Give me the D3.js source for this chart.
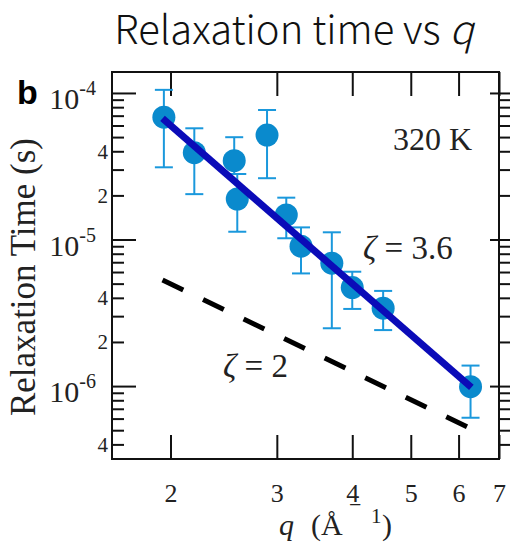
<!DOCTYPE html>
<html>
<head>
<meta charset="utf-8">
<script src="https://cdn.jsdelivr.net/npm/d3@7"></script>
<style>
  body { margin: 0; background: #fff; }
  svg { display: block; }
</style>
</head>
<body>
<div id="chart"></div>
<script>
const qValues = [1.95, 2.19, 2.55, 2.58, 2.89, 3.11, 3.29, 3.70, 4.00, 4.50, 6.28];
const tauValues = [6.83e-5, 3.91e-5, 3.45e-5, 1.89e-5, 5.16e-5, 1.47e-5, 9.0e-6, 6.9e-6, 4.7e-6, 3.4e-6, 9.9e-7];
const tauHigh = [1.05e-4, 5.74e-5, 4.99e-5, 2.80e-5, 7.65e-5, 1.93e-5, 1.21e-5, 1.12e-5, 6.03e-6, 4.46e-6, 1.38e-6];
const tauLow = [3.11e-5, 2.04e-5, 2.80e-5, 1.13e-5, 2.62e-5, 1.02e-5, 5.87e-6, 2.48e-6, 3.36e-6, 2.41e-6, 6.08e-7];

// fitted line (zeta = 3.6) and reference slope (zeta = 2), end points
const fitQ = [1.94, 6.3];
const fitTau = [6.7e-5, 9.8e-7];
const refQ = [1.94, 6.28];
const refTau = [5.3e-6, 5.14e-7];

// ticks
const xTicks = [2, 3, 4, 5, 6, 7];
const yMajor = [1e-4, 1e-5, 1e-6];
const yMajorExp = ["-4", "-5", "-6"];
const yMinor = [4e-7, 5e-7, 6e-7, 7e-7, 8e-7, 9e-7,
                2e-6, 3e-6, 4e-6, 5e-6, 6e-6, 7e-6, 8e-6, 9e-6,
                2e-5, 3e-5, 4e-5, 5e-5, 6e-5, 7e-5, 8e-5, 9e-5];
const yMinorLabels = [4e-7, 2e-6, 4e-6, 2e-5, 4e-5];

const width = 510, height = 547;
const margin = { top: 72, right: 11, bottom: 88, left: 112 };
const serif = "'Liberation Serif', 'Times New Roman', serif";

const svg = d3.select('#chart')
    .append('svg')
    .attr('width', width)
    .attr('height', height);

const x = d3.scaleLog()
    .domain([1.6, 7])
    .range([margin.left, width - margin.right]);

const y = d3.scaleLog()
    .domain([3.18e-7, 1.39e-4])
    .range([height - margin.bottom, margin.top]);

const x0 = x.range()[0], x1 = x.range()[1];
const y0 = y.range()[0], y1 = y.range()[1];

// Title
svg.append('text')
    .attr('x', 294)
    .attr('y', 44)
    .attr('text-anchor', 'middle')
    .style('font-family', "'Noto Sans CJK JP', 'Noto Sans', sans-serif")
    .style('font-size', '40px')
    .style('font-weight', 300)
    .attr('fill', '#111')
    .text('Relaxation time vs ')
    .append('tspan')
    .style('font-style', 'italic')
    .text('q');

// panel letter
svg.append('text')
    .attr('x', 17)
    .attr('y', 104)
    .style('font-family', "'Liberation Sans', Arial, sans-serif")
    .style('font-weight', 'bold')
    .style('font-size', '34px')
    .text('b');

// styles for axes
function styleAxis(g, fontSize) {
    g.select('.domain').remove();
    g.selectAll('.tick line').attr('stroke', '#111').attr('stroke-width', 2);
    g.selectAll('.tick text')
        .attr('fill', '#222')
        .style('font-family', serif)
        .style('font-size', fontSize);
}

// bottom x axis (ticks inward)
svg.append('g')
    .attr('transform', `translate(0,${y0})`)
    .call(d3.axisBottom(x).tickValues(xTicks).tickSize(-24).tickPadding(25).tickFormat(d3.format('d')))
    .call(g => styleAxis(g, '26px'));

// top x axis (ticks inward, no labels)
svg.append('g')
    .attr('transform', `translate(0,${y1})`)
    .call(d3.axisTop(x).tickValues(xTicks).tickSize(-24).tickFormat(''))
    .call(g => styleAxis(g, '0px'));

// left y axis: minor ticks
svg.append('g')
    .attr('transform', `translate(${x0},0)`)
    .call(d3.axisLeft(y).tickValues(yMinor).tickSize(-12).tickPadding(4)
        .tickFormat(d => yMinorLabels.some(v => Math.abs(v - d) / v < 1e-6) ? String(Math.round(d / Math.pow(10, Math.floor(Math.log10(d) + 1e-9)))) : ''))
    .call(g => styleAxis(g, '21px'));

// left y axis: major ticks
svg.append('g')
    .attr('transform', `translate(${x0},0)`)
    .call(d3.axisLeft(y).tickValues(yMajor).tickSize(-24).tickFormat(''))
    .call(g => styleAxis(g, '0px'));

// power-of-ten labels
yMajor.forEach((v, i) => {
    const t = svg.append('text')
        .attr('x', 96)
        .attr('y', y(v) + 16)
        .attr('text-anchor', 'end')
        .attr('fill', '#222')
        .style('font-family', serif);
    t.append('tspan').style('font-size', '30px').text('10');
    t.append('tspan').style('font-size', '20px').attr('dy', -14).text(yMajorExp[i]);
});

// right y axis (ticks outward)
svg.append('g')
    .attr('transform', `translate(${x1},0)`)
    .call(d3.axisRight(y).tickValues(yMinor).tickSize(12).tickFormat(''))
    .call(g => styleAxis(g, '0px'));
svg.append('g')
    .attr('transform', `translate(${x1 - 9},0)`)
    .call(d3.axisRight(y).tickValues(yMajor).tickSize(22).tickFormat(''))
    .call(g => styleAxis(g, '0px'));

// frame
svg.append('rect')
    .attr('x', x0)
    .attr('y', y1)
    .attr('width', x1 - x0)
    .attr('height', y0 - y1)
    .attr('fill', 'none')
    .attr('stroke', '#111')
    .attr('stroke-width', 2);

// axis titles
svg.append('text')
    .attr('transform', `translate(35,277) rotate(-90)`)
    .attr('text-anchor', 'middle')
    .attr('fill', '#222')
    .style('font-family', serif)
    .style('font-size', '35px')
    .text('Relaxation Time (s)');

const xLabel = svg.append('g')
    .attr('fill', '#222')
    .style('font-family', serif);
xLabel.append('text')
    .attr('x', 279).attr('y', 535)
    .style('font-size', '30px')
    .style('font-style', 'italic')
    .text('q');
xLabel.append('text')
    .attr('x', 311).attr('y', 535)
    .style('font-size', '30px')
    .text('(Å');
xLabel.append('text')
    .attr('x', 349).attr('y', 512)
    .style('font-size', '22px')
    .text('−');
xLabel.append('text')
    .attr('x', 371).attr('y', 523)
    .style('font-size', '21px')
    .text('1');
xLabel.append('text')
    .attr('x', 382).attr('y', 535)
    .style('font-size', '30px')
    .text(')');

// reference slope, dashed
const line = d3.line().x(d => x(d[0])).y(d => y(d[1]));
svg.append('path')
    .datum(refQ.map((q, i) => [q, refTau[i]]))
    .attr('d', line)
    .attr('fill', 'none')
    .attr('stroke', '#000')
    .attr('stroke-width', 5)
    .attr('stroke-dasharray', '23,22');

// error bars
const errColor = '#1a98dc';
const capW = 9;
qValues.forEach((q, i) => {
    const cx = x(q);
    svg.append('line')
        .attr('x1', cx).attr('x2', cx)
        .attr('y1', y(tauHigh[i])).attr('y2', y(tauLow[i]))
        .attr('stroke', errColor).attr('stroke-width', 2);
    [tauHigh[i], tauLow[i]].forEach(v => {
        svg.append('line')
            .attr('x1', cx - capW).attr('x2', cx + capW)
            .attr('y1', y(v)).attr('y2', y(v))
            .attr('stroke', errColor).attr('stroke-width', 2);
    });
});

// data points
svg.append('g')
    .selectAll('circle')
    .data(qValues.map((q, i) => [q, tauValues[i]]))
    .join('circle')
    .attr('cx', d => x(d[0]))
    .attr('cy', d => y(d[1]))
    .attr('r', 11.5)
    .attr('fill', '#0a8acd');

// fit line
svg.append('path')
    .datum(fitQ.map((q, i) => [q, fitTau[i]]))
    .attr('d', line)
    .attr('fill', 'none')
    .attr('stroke', '#0b0bb8')
    .attr('stroke-width', 7);

// annotations
svg.append('text')
    .attr('x', 393).attr('y', 150)
    .attr('fill', '#222')
    .style('font-family', serif)
    .style('font-size', '32px')
    .text('320 K');

svg.append('text')
    .attr('x', 363).attr('y', 259)
    .attr('fill', '#222')
    .style('font-family', serif)
    .style('font-size', '33px')
    .html('<tspan font-style="italic">ζ</tspan> = 3.6');

svg.append('text')
    .attr('x', 223).attr('y', 377)
    .attr('fill', '#222')
    .style('font-family', serif)
    .style('font-size', '33px')
    .html('<tspan font-style="italic">ζ</tspan> = 2');
</script>
</body>
</html>
